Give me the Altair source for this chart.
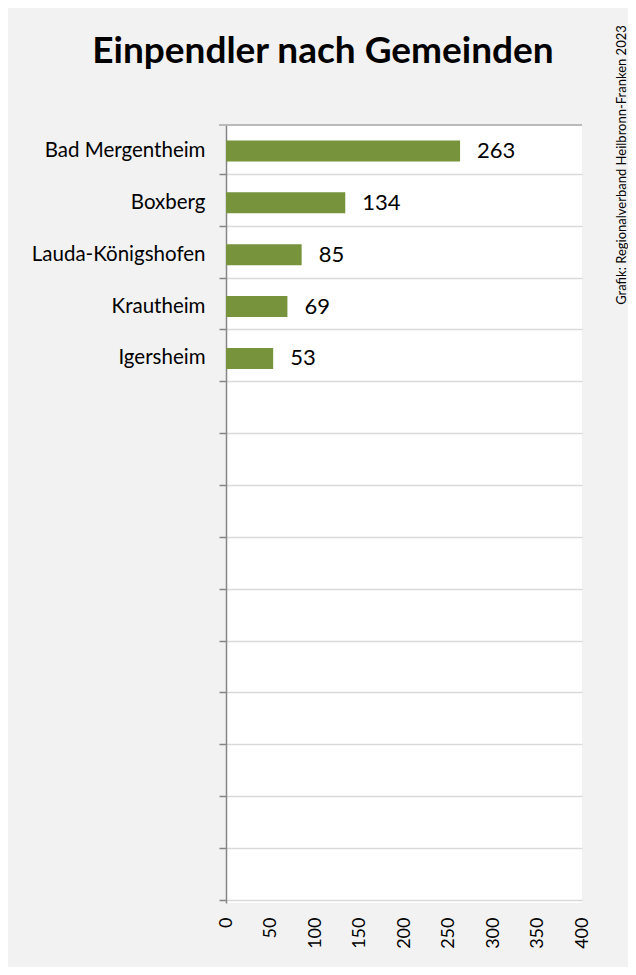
import altair as alt
import pandas as pd

names = ["Bad Mergentheim", "Boxberg", "Lauda-Königshofen", "Krautheim", "Igersheim"]
values = [263, 134, 85, 69, 53]
n_empty = 10
x_ticks = [0, 50, 100, 150, 200, 250, 300, 350, 400]
title_text = "Einpendler nach Gemeinden"
credit_text = "Grafik: Regionalverband Heilbronn-Franken 2023"

placeholders = [f"_{i}" for i in range(n_empty)]
domain = names + placeholders
df = pd.DataFrame({"Gemeinde": names, "Einpendler": values})

FONT = "Lato"
W, H = 356, 778

y_enc = alt.Y(
    "Gemeinde:N",
    scale=alt.Scale(domain=domain),
    axis=alt.Axis(
        title=None,
        bandPosition=1,
        labelExpr="indexof(datum.value, '_') == 0 ? '' : datum.value",
        labelFont=FONT,
        labelFontSize=20.5,
        labelColor="#000000",
        labelPadding=14,
        tickSize=7,
        tickColor="#868686",
        tickWidth=1.5,
        domainColor="#868686",
        domainWidth=1.5,
        grid=True,
        gridColor="#d9d9d9",
        gridWidth=1.5,
    ),
)
x_enc = alt.X(
    "Einpendler:Q",
    scale=alt.Scale(domain=[0, 400], nice=False),
    axis=alt.Axis(
        title=None,
        values=x_ticks,
        labelAngle=-90,
        labelFont=FONT,
        labelFontSize=18,
        labelColor="#000000",
        labelPadding=14,
        ticks=False,
        grid=False,
        domain=False,
    ),
)

bars = alt.Chart(df).mark_bar(color="#77933c", size=21).encode(x=x_enc, y=y_enc)
labels = alt.Chart(df).mark_text(
    align="left", baseline="middle", dx=17, font=FONT, fontSize=22, color="#000000"
).encode(x="Einpendler:Q", y=alt.Y("Gemeinde:N", scale=alt.Scale(domain=domain)), text="Einpendler:Q")

top_line = alt.Chart(pd.DataFrame({"a": [0]})).mark_rule(color="#a6a6a6", strokeWidth=1.5).encode(
    x=alt.value(-7), x2=alt.value(W), y=alt.value(0)
)

title = alt.Chart(pd.DataFrame({"t": [title_text]})).mark_text(
    align="center", baseline="middle", font=FONT, fontSize=37, fontWeight="bold", color="#000000"
).encode(x=alt.value(97), y=alt.value(-73), text="t:N")

credit = alt.Chart(pd.DataFrame({"t": [credit_text]})).mark_text(
    angle=270, align="center", baseline="middle", font=FONT, fontSize=13, color="#000000"
).encode(x=alt.value(396), y=alt.value(40), text="t:N")

chart = alt.layer(bars, labels, top_line, title, credit).properties(
    width=W,
    height=H,
    background="#f2f2f2",
    padding={"left": 218, "top": 117, "right": 46, "bottom": 64},
    autosize=alt.AutoSizeParams(type="none"),
).configure_view(fill="#ffffff", stroke=None)

chart.save("out.html", embed_options={"renderer": "svg", "actions": False})
